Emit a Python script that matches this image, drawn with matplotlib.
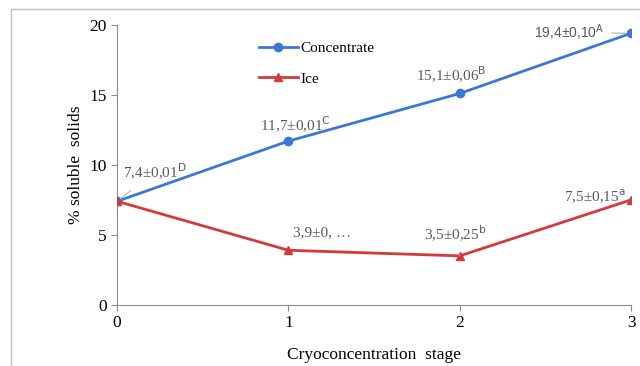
import matplotlib.pyplot as plt
from matplotlib.patches import Rectangle

plt.rcParams['font.family'] = ['Liberation Serif', 'DejaVu Serif']

stages = [0, 1, 2, 3]
concentrate = [7.4, 11.7, 15.1, 19.4]
ice = [7.4, 3.9, 3.5, 7.5]
conc_labels = ['7,4±0,01$^{\\mathrm{D}}$', '11,7±0,01$^{\\mathrm{C}}$',
               '15,1±0,06$^{\\mathrm{B}}$', '19,4±0,10$^{\\mathrm{A}}$']
ice_labels = ['3,9±0, …', '3,5±0,25$^{\\mathrm{b}}$', '7,5±0,15$^{\\mathrm{a}}$']

blue = '#3b78d6'
red = '#d43a3a'
grey = '#8c8c8c'
txt = '#595959'

fig = plt.figure(figsize=(6.4, 3.66), dpi=100)
fig.patches.append(Rectangle((0.017, -0.1), 1.2, 1.075, transform=fig.transFigure,
                             fill=False, edgecolor='#bfbfbf', linewidth=1))
ax = fig.add_axes([0.183, 0.167, 0.803, 0.765])

ax.plot(stages, concentrate, color=blue, lw=2, marker='o', ms=6, label='Concentrate', zorder=3)
ax.plot(stages, ice, color=red, lw=2, marker='^', ms=6, label='Ice', zorder=3)

ax.set_xlim(0, 3)
ax.set_ylim(0, 20)
ax.set_xticks(stages)
ax.set_yticks([0, 5, 10, 15, 20])
for s in ['top', 'right']:
    ax.spines[s].set_visible(False)
for s in ['left', 'bottom']:
    ax.spines[s].set_color(grey)
ax.tick_params(colors=grey, labelcolor='black', labelsize=12.5, length=4)
ax.set_xlabel('Cryoconcentration  stage', fontsize=12.5, labelpad=11)
ax.set_ylabel('% soluble  solids', fontsize=12.5, labelpad=4)

kw = dict(fontsize=11, color=txt, annotation_clip=False)
line = dict(arrowstyle='-', color='#b0b0b0', lw=0.8)
ax.annotate(conc_labels[0], xy=(stages[0], concentrate[0]), xytext=(0.22, 9.5),
            ha='center', va='center',
            arrowprops=dict(shrinkA=7, shrinkB=3, **line), **kw)
ax.annotate(conc_labels[1], xy=(stages[1], concentrate[1]), xytext=(5, 11.5),
            textcoords='offset points', ha='center', va='center', **kw)
ax.annotate(conc_labels[2], xy=(stages[2], concentrate[2]), xytext=(-6.5, 13.7),
            textcoords='offset points', ha='center', va='center', **kw)
ax.annotate(conc_labels[3], xy=(stages[3], concentrate[3]), xytext=(-19, 0.5),
            textcoords='offset points', ha='right', va='center',
            fontfamily=['Liberation Sans', 'DejaVu Sans'],
            arrowprops=dict(shrinkA=3, shrinkB=4, **line),
            fontsize=10, color=txt, annotation_clip=False)
ax.annotate(ice_labels[0], xy=(stages[1], ice[1]), xytext=(3.6, 13),
            textcoords='offset points', ha='left', va='center', **kw)
ax.annotate(ice_labels[1], xy=(stages[2], ice[2]), xytext=(-3, 16),
            textcoords='offset points', ha='center', va='center',
            arrowprops=dict(shrinkA=6, shrinkB=4, **line), **kw)
ax.annotate(ice_labels[2], xy=(stages[3], ice[3]), xytext=(-26, 2),
            textcoords='offset points', ha='center', va='center', **kw)

ax.legend(loc='upper left', bbox_to_anchor=(0.25, 0.99), frameon=False,
          fontsize=11, handlelength=2.5, handletextpad=0.2, labelspacing=1.1)

fig.savefig('out.png', dpi=100)
